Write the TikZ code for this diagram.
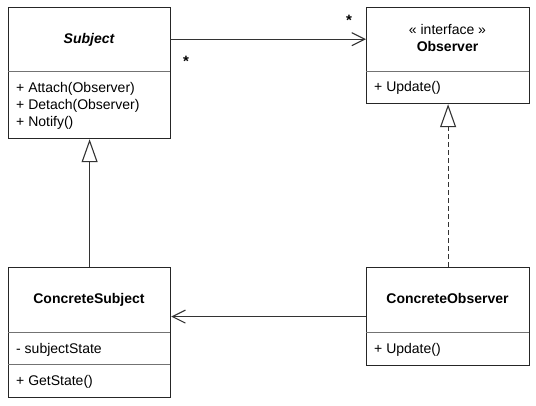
\documentclass[tikz,border=0pt]{standalone}
\usepackage{fontspec}
\setmainfont{Liberation Sans}
\usetikzlibrary{arrows.meta}
\begin{document}
\begin{tikzpicture}[x=1pt,y=-1pt,
  every node/.style={font=\fontsize{14}{17}\selectfont, inner sep=0pt, text=black},
  classbox/.style={draw=black!85, line width=1.2pt, anchor=north west},
  divider/.style={draw=black!55, line width=0.8pt},
  member/.style={anchor=base west},
  title/.style={anchor=base, font=\fontsize{14}{17}\selectfont\bfseries},
  conn/.style={draw=black!80, line width=1.2pt},
  assoc/.style={conn, -{Straight Barb[length=13pt,width=13pt,line width=1.1pt]}},
  inherit/.style={conn, -{Triangle[open,length=23pt,width=16pt,fill=white,line width=1.1pt]}},
  mult/.style={font=\fontsize{15}{17}\selectfont\bfseries}
]
\useasboundingbox (0,0) rectangle (536,406);

% Subject (abstract class)
\node[classbox, minimum width=162pt, minimum height=131pt] (subj) at (8,7) {};
\node[minimum width=162pt, minimum height=64pt, anchor=north west] (subjT) at (8,7) {};
\draw[divider] (8,71) -- (170,71);
\node[title, font=\fontsize{14}{17}\selectfont\bfseries\itshape] (subjName) at (89,44) {Subject};
\node[member] (subjM1) at (16,93) {+ Attach(Observer)};
\node[member] (subjM2) at (16,110) {+ Detach(Observer)};
\node[member] (subjM3) at (16,127) {+ Notify()};

% Observer (interface)
\node[classbox, minimum width=163pt, minimum height=96pt] (obs) at (366,7) {};
\node[minimum width=163pt, minimum height=64pt, anchor=north west] (obsT) at (366,7) {};
\draw[divider] (366,71) -- (529,71);
\node[anchor=base] (obsSt) at (447.5,35) {« interface »};
\node[title] (obsName) at (447.5,52) {Observer};
\node[member] (obsM1) at (374,92) {+ Update()};

% ConcreteSubject
\node[classbox, minimum width=162pt, minimum height=130pt] (csub) at (8,267) {};
\draw[divider] (8,332) -- (170,332);
\draw[divider] (8,364) -- (170,364);
\node[title] (csubName) at (89,304) {ConcreteSubject};
\node[member] (csubA1) at (16,353) {- subjectState};
\node[member] (csubM1) at (16,385) {+ GetState()};

% ConcreteObserver
\node[classbox, minimum width=163pt, minimum height=98pt] (cobs) at (366,267) {};
\draw[divider] (366,332) -- (529,332);
\node[title] (cobsName) at (447.5,304) {ConcreteObserver};
\node[member] (cobsM1) at (374,353) {+ Update()};

% Subject -> Observer association with multiplicities
\draw[assoc] (subjT.east) -- (obsT.west);
\node[mult] (multA) at (186,61) {*};
\node[mult] (multB) at (349,20) {*};

% ConcreteSubject generalizes Subject
\draw[inherit] (csub.north) -- (subj.south);

% ConcreteObserver realizes Observer
\draw[inherit, dashed, dash pattern=on 5pt off 3pt] (cobs.north) -- (obs.south);

% ConcreteObserver -> ConcreteSubject association
\draw[assoc] (cobs.west) -- (cobs.west -| csub.east);
\end{tikzpicture}
\end{document}
